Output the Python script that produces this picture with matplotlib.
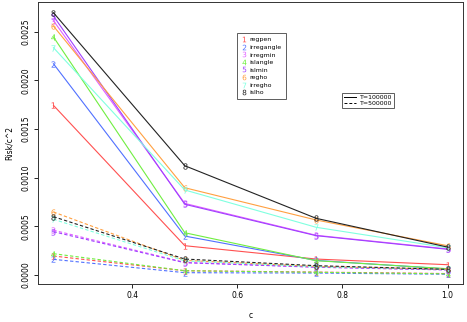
import matplotlib
matplotlib.use("Agg")
import matplotlib.pyplot as plt
from matplotlib.lines import Line2D

c_vals = [0.25, 0.5, 0.75, 1.0]
names = ["regpen", "irregangle", "irregmin", "islangle", "islmin", "regho", "irregho", "islho"]
colors = ["#ff5050", "#5070ff", "#e060ff", "#70ee40", "#a040ff", "#ffa040", "#80ffe0", "#222222"]

# T=100000 (solid)
risk_t1 = [
    [0.001742, 0.000301, 0.000164, 0.000106],
    [0.002169, 0.000400, 0.000150, 0.000062],
    [0.002611, 0.000735, 0.000408, 0.000268],
    [0.002444, 0.000434, 0.000147, 0.000065],
    [0.002659, 0.000726, 0.000404, 0.000264],
    [0.002556, 0.000896, 0.000565, 0.000301],
    [0.002334, 0.000873, 0.000490, 0.000280],
    [0.002693, 0.001122, 0.000582, 0.000287],
]
# T=500000 (dashed)
risk_t2 = [
    [0.000195, 0.000044, 0.000030, 0.000015],
    [0.000161, 0.000024, 0.000020, 0.000008],
    [0.000460, 0.000130, 0.000082, 0.000055],
    [0.000219, 0.000044, 0.000028, 0.000012],
    [0.000445, 0.000126, 0.000080, 0.000052],
    [0.000647, 0.000150, 0.000088, 0.000060],
    [0.000572, 0.000145, 0.000085, 0.000058],
    [0.000599, 0.000164, 0.000096, 0.000058],
]

fig = plt.figure(figsize=(4.67, 3.22), dpi=100)
ax = fig.add_axes([0.0807, 0.117, 0.9113, 0.8777])

for i in range(8):
    m = f"${i + 1}$"
    ax.plot(c_vals, risk_t1[i], color=colors[i], lw=0.8, ls="-",
            marker=m, markersize=4.5, markeredgewidth=0)
    ax.plot(c_vals, risk_t2[i], color=colors[i], lw=0.8, ls=(0, (3, 2)),
            marker=m, markersize=4.5, markeredgewidth=0)

ax.set_xlim(0.22, 1.03)
ax.set_ylim(-0.0000955, 0.002806)
ax.set_xticks([0.4, 0.6, 0.8, 1.0])
ax.set_xticklabels(["0.4", "0.6", "0.8", "1.0"])
yt = [0.0, 0.0005, 0.001, 0.0015, 0.002, 0.0025]
ax.set_yticks(yt)
ax.set_yticklabels([f"{v:.4f}" for v in yt], rotation=90, va="center")
ax.tick_params(labelsize=5.5, length=3, width=0.6, direction="out", pad=2)
for s in ax.spines.values():
    s.set_linewidth(0.7)
    s.set_color("#333333")

ax.set_xlabel("c", fontsize=5.5, labelpad=8)
ax.set_ylabel("Risk/c^2", fontsize=5.5, labelpad=6)

handles1 = [Line2D([], [], ls="none", marker=f"${i + 1}$", color=colors[i],
                   markersize=4, markeredgewidth=0) for i in range(8)]
leg1 = ax.legend(handles1, names, loc="upper left",
                 bbox_to_anchor=(237.3 / 467, 1 - 33.3 / 322),
                 bbox_transform=fig.transFigure, fontsize=4.5, frameon=True,
                 fancybox=False, edgecolor="#333333", handlelength=0.8,
                 handletextpad=0.6, borderpad=0.6, labelspacing=0.35,
                 borderaxespad=0)
leg1.get_frame().set_linewidth(0.7)
ax.add_artist(leg1)

handles2 = [Line2D([], [], color="black", lw=0.7, ls="-"),
            Line2D([], [], color="black", lw=0.7, ls=(0, (3, 2)))]
leg2 = ax.legend(handles2, ["T=100000", "T=500000"], loc="upper left",
                 bbox_to_anchor=(342.3 / 467, 1 - 92.7 / 322),
                 bbox_transform=fig.transFigure, fontsize=4.5, frameon=True,
                 fancybox=False, edgecolor="#333333", handlelength=1.8,
                 handletextpad=0.6, borderpad=0.35, labelspacing=0.05,
                 borderaxespad=0)
leg2.get_frame().set_linewidth(0.7)

fig.savefig("out.png", dpi=100)
